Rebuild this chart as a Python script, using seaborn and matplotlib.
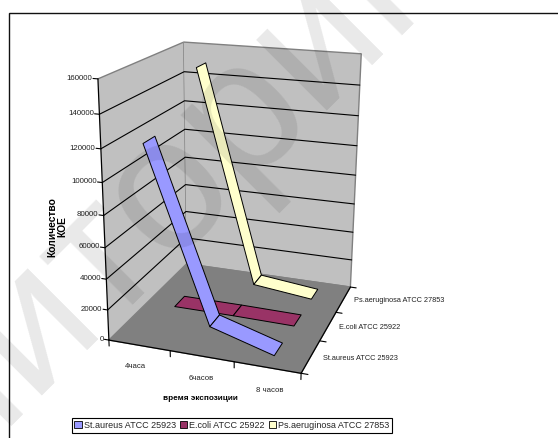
import matplotlib
matplotlib.use("Agg")
import matplotlib.pyplot as plt
from matplotlib.font_manager import FontProperties
from matplotlib.patches import Patch, Rectangle
from matplotlib.textpath import TextPath
from mpl_toolkits.mplot3d.art3d import Poly3DCollection
import seaborn as sns

# Data
times = ['4часа', '6часов', '8 часов']
strains = ['St.aureus ATCC 25923', 'E.coli ATCC 25922', 'Ps.aeruginosa ATCC 27853']
st_aureus = [122000, 13500, 1500]
e_coli = [1500, 1500, 1000]
ps_aeruginosa = [150000, 5500, 1000]
z_ticks = [0, 20000, 40000, 60000, 80000, 100000, 120000, 140000, 160000]

W, H = 558, 438
FONT = 'Liberation Sans'

sns.set_theme(style='white', font=FONT)
colors = sns.color_palette(['#9999FF', '#993366', '#FFFFCC'])

fig = plt.figure(figsize=(W / 100, H / 100), dpi=100, facecolor='white')

# view found by fitting the box corners to the reference
ax = fig.add_axes([46.45 / W, 52.78 / H, 372.26 / W, 372.26 / H], projection='3d', computed_zorder=False)
ax.view_init(elev=18.756, azim=-71.036, roll=-0.312)
ax.set_proj_type('persp', focal_length=0.48)
ax.set_box_aspect((0.751, 0.784, 1))
ax.patch.set_visible(False)

for axis, col in [(ax.xaxis, '#C0C0C0'), (ax.yaxis, '#C0C0C0'), (ax.zaxis, '#808080')]:
    axis.set_pane_color(col)
    axis.pane.set_edgecolor('#808080')
    axis.pane.set_linewidth(1)
    axis.line.set_color('black')
    axis.line.set_linewidth(0.9)
    axis.label.set_visible(False)
    axis.get_offset_text().set_visible(False)

ax.grid(False)
ax.set_xticks([])
ax.set_yticks([])
ax.set_zticks([])
ax.zaxis.set_ticks_position('lower')

# wall grid lines and the tick marks, drawn by hand to get the Excel look
for v in z_ticks[1:-1]:
    ax.plot([0, 0, 3], [0, 3, 3], [v, v, v], color='black', lw=0.8, zorder=1)
for v in z_ticks:
    ax.plot([-0.075, 0], [0, 0], [v, v], color='black', lw=0.8, zorder=1)
    ax.text(-0.085, 0, v, str(v), fontsize=5.7, ha='right', va='center', color='#222222')
for t in range(len(times) + 1):
    ax.plot([t, t], [0, 0], [-4000, 0], color='black', lw=0.8, zorder=1)
for t in range(len(strains) + 1):
    ax.plot([3, 3.1], [t, t], [0, 0], color='black', lw=0.8, zorder=1)

# ribbons, back series first
series = [st_aureus, e_coli, ps_aeruginosa]
half = 0.2
for k in [2, 1, 0]:
    vals = series[k]
    y = k + 0.5
    for i in range(len(times) - 1):
        quad = [(i + 0.5, y - half, vals[i]), (i + 1.5, y - half, vals[i + 1]),
                (i + 1.5, y + half, vals[i + 1]), (i + 0.5, y + half, vals[i])]
        poly = Poly3DCollection([quad], facecolor=colors[k], edgecolor='black', linewidth=0.7)
        poly.set_zorder(5 + (2 - k) * 2 + i)
        ax.add_collection3d(poly, autolim=False)

ax.set_xlim(0, 3, view_margin=0)
ax.set_ylim(0, 3, view_margin=0)
ax.set_zlim(0, 160000, view_margin=0)

for i, t in enumerate(times):
    ax.text(i + 0.72, -0.58, 0, t, fontsize=5.6, ha='center', va='center', color='#222222')
for k, s in enumerate(strains):
    ax.text(3.18, k + 0.5, 0, s, fontsize=5.3, ha='left', va='center', color='#222222')


def fx(px):
    return px / W


def fy(py):
    return 1 - py / H


fig.text(fx(200), fy(399), 'время экспозиции', fontsize=5.9, fontweight='bold', ha='center', va='center', color='black')
fig.text(fx(57.5), fy(227), 'Количество\nКОЕ', fontsize=7.4, fontweight='bold', rotation=90, ha='center', va='center',
         ma='center', linespacing=1.0, color='black')

handles = [Patch(facecolor=colors[k], edgecolor='black', linewidth=0.6, label=strains[k]) for k in range(3)]
leg = fig.legend(handles=handles, loc='center', bbox_to_anchor=(fx(232), fy(425.5)), ncol=3, fontsize=6.5,
                 frameon=True, fancybox=False, edgecolor='black', framealpha=1, handlelength=0.8, handleheight=0.8,
                 handletextpad=0.25, columnspacing=0.45, borderpad=0.3, borderaxespad=0)
leg.get_frame().set_linewidth(0.8)

# outer chart frame, runs past the right and bottom edges
fig.add_artist(Rectangle((fx(9), fy(500)), fx(600), 1 - fy(500) - (1 - fy(13)), transform=fig.transFigure,
                         fill=False, edgecolor='#111111', linewidth=1.0))

# watermark running up the page, placed so its second "о" sits where it does in the reference
mark = 'мониторинг'
mark_pt = 137
mark_prop = FontProperties(family=FONT)
before = TextPath((0, 0), mark[:6], size=mark_pt * 100 / 72, prop=mark_prop).get_extents().x1
o_w = TextPath((0, 0), 'о', size=mark_pt * 100 / 72, prop=mark_prop).get_extents().width
along = (before - o_w / 2) * 0.7071
fig.text(fx(202 - along), fy(222 + along), mark, fontsize=mark_pt, family=FONT, rotation=45, rotation_mode='anchor',
         ha='left', va='baseline', color='black', alpha=0.09, zorder=10)

fig.savefig('out.png', dpi=100)
